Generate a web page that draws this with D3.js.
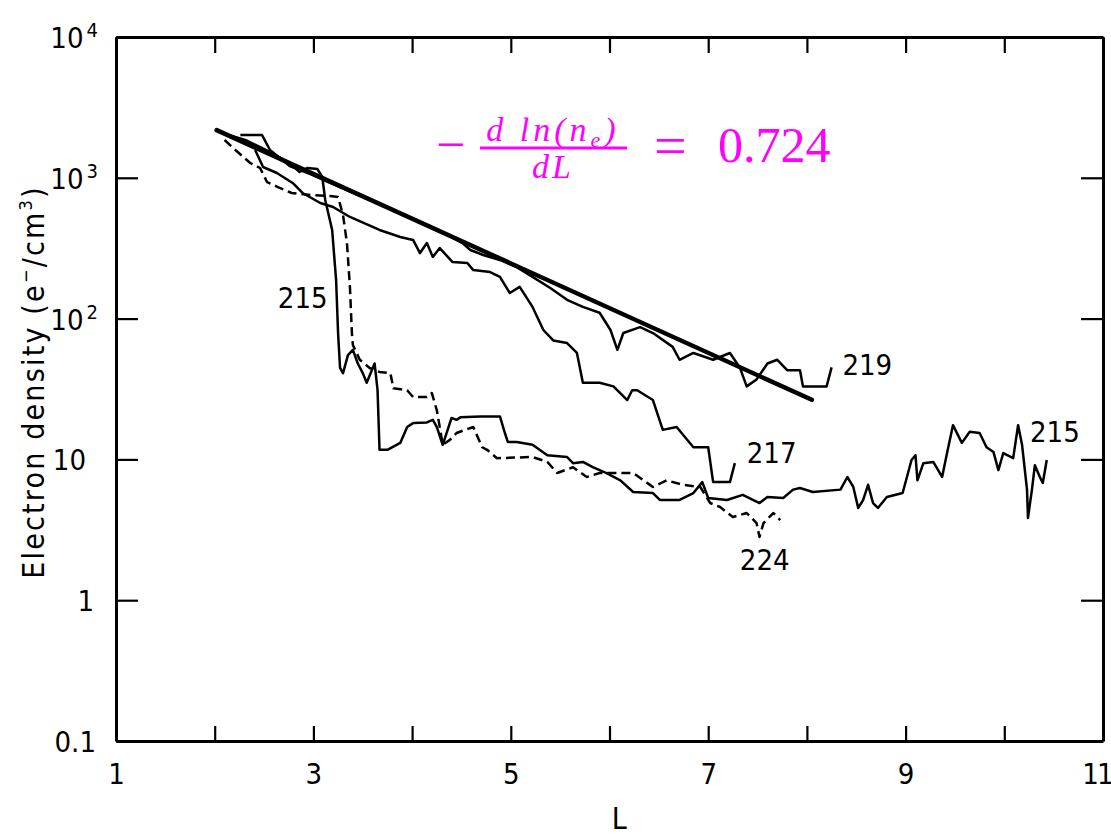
<!DOCTYPE html>
<html>
<head>
<meta charset="utf-8">
<script src="https://cdn.jsdelivr.net/npm/d3@7"></script>
<style>
  html, body { margin: 0; padding: 0; background: #fff; }
  svg { display: block; }
</style>
</head>
<body>
<svg id="chart" width="1111" height="837"></svg>
<script>
// ---------------- data ----------------
const L215 = [2.07,2.31,2.56,2.76,2.86,2.94,3.04,3.09,3.12,3.19,3.23,3.25,3.27,3.30,3.35,3.40,3.45,3.50,3.54,3.62,3.65,3.67,3.75,3.88,3.95,4.01,4.15,4.21,4.25,4.31,4.36,4.40,4.45,4.49,4.69,4.89,4.94,4.97,5.06,5.22,5.37,5.57,5.63,5.73,5.83,5.97,6.11,6.24,6.44,6.51,6.71,6.85,6.94,7.00,7.19,7.35,7.52,7.60,7.76,7.86,7.93,8.06,8.34,8.41,8.47,8.52,8.57,8.62,8.67,8.72,8.81,8.97,9.06,9.10,9.12,9.18,9.28,9.37,9.42,9.48,9.57,9.65,9.75,9.82,9.89,9.94,9.99,10.09,10.14,10.18,10.23,10.24,10.28,10.31,10.36,10.39,10.43];
const N215 = [2080,1856,1525,1274,1100,1174,1155,1013,696,426,188,79,44.6,41,55,60,48,41,35,48,31,11.7,11.7,13.1,17.0,18.1,18.3,19.1,17.0,12.7,16.2,19.7,19.1,19.9,20.2,20.2,15.4,13.3,13.3,12.7,10.7,10.4,9.4,9.6,8.8,8.0,7.1,5.87,5.77,5.15,5.15,5.77,6.9,5.32,5.15,5.6,4.9,5.41,5.32,6.1,6.27,5.87,6.1,7.5,6.37,4.52,5.15,6.6,4.9,4.52,5.41,5.77,9.9,10.7,7.1,9.4,9.6,7.5,11.1,17.5,13.1,15.7,15.4,12.2,11.3,8.4,11.1,10.2,17.5,12.7,6.1,3.84,6.1,9.1,7.5,6.8,9.9];

const L217 = [2.41,2.49,2.63,2.79,2.89,3.07,3.20,3.37,3.67,3.88,4.01,4.08,4.15,4.21,4.28,4.41,4.56,4.62,4.79,4.89,4.99,5.09,5.22,5.33,5.43,5.57,5.67,5.73,5.90,6.04,6.18,6.23,6.28,6.44,6.54,6.68,6.85,7.00,7.05,7.22,7.27];
const N217 = [1575,1193,1082,919,780,662,620,527,426,380,362,292,344,274,317,252,248,221,214,198,152,168,121,83,70,67,57,35,35,33,26.4,31,31,26.4,16.2,17.0,12.2,12.2,6.9,6.9,9.4];

const L219 = [2.26,2.48,2.56,2.76,2.97,3.17,3.47,3.88,4.18,4.38,4.51,4.59,4.72,4.89,5.06,5.22,5.40,5.57,5.73,5.90,6.01,6.08,6.14,6.31,6.44,6.64,6.71,6.85,7.05,7.22,7.32,7.39,7.49,7.60,7.70,7.80,7.93,7.96,8.20,8.25];
const N219 = [2010,2010,1575,1213,1064,919,743,562,455,386,344,307,283,261,232,198,165,136,121,110,83,60,79,87,79,63,51,57,51,57,45,33,37,48,51,43,43,33,33,45];

const L224 = [2.10,2.21,2.36,2.46,2.53,2.64,2.78,2.97,3.17,3.25,3.30,3.34,3.37,3.39,3.40,3.47,3.57,3.67,3.78,3.81,3.95,4.01,4.15,4.20,4.25,4.28,4.31,4.38,4.45,4.62,4.71,4.76,4.86,5.22,5.37,5.47,5.63,5.77,5.90,6.24,6.44,6.58,6.74,6.92,7.02,7.12,7.25,7.39,7.49,7.52,7.56,7.66,7.73];
const N224 = [1856,1575,1274,1174,933,860,780,755,743,731,544,344,168,79,65,51,44.6,41.8,41,32,31,27.7,27.7,29.6,22.4,17.0,12.7,13.7,15.4,17.0,12.2,11.7,10.2,10.4,9.6,8.0,8.8,7.5,8.0,8.0,6.37,7.1,6.6,6.37,4.9,4.59,3.90,4.16,3.53,2.81,3.53,4.16,3.71];

// straight-line fit endpoints, slope -dln(ne)/dL = 0.724
const fitL = [2.02, 8.05];
const fitN = [2180, 26.5];

const xTicks = [1,2,3,4,5,6,7,8,9,10,11];
const xTickLabels = ["1","","3","","5","","7","","9","","11"];
const yTicks = [0.1,1,10,100,1000,10000];
const yTickBase = ["0.1","1","10","10","10","10"];
const yTickExp  = ["","","","2","3","4"];

// label anchors in data coordinates (L, density)
const labelText = ["215","219","217","224","215"];
const labelL    = [2.64, 8.36, 7.39, 7.32, 10.26];
const labelN    = [119, 40, 9.4, 1.64, 13.3];

// ---------------- drawing ----------------
const FONT = "'Liberation Sans Narrow','DejaVu Sans Condensed','Roboto Condensed','Arial Narrow',sans-serif";
const SERIF = "'Liberation Serif','DejaVu Serif',serif";
const MAG = "#ff00ff";
const yTickDx = [-2, -4, -12, 0, 0, 0];   // small per-label nudges (layout only)

const svg = d3.select("#chart");
svg.append("rect").attr("width",1111).attr("height",837).attr("fill","#fff");

const x = d3.scaleLinear().domain([1, 11]).range([116, 1103]);
const y = d3.scaleLog().domain([0.1, 10000]).range([741, 37]);

const line = d3.line().x(d => x(d[0])).y(d => y(d[1]));

// frame axes
const gB = svg.append("g").attr("transform", `translate(0,${y(0.1)})`)
  .call(d3.axisBottom(x).tickValues(xTicks).tickSize(-15).tickSizeOuter(0).tickPadding(22)
        .tickFormat((d,i) => xTickLabels[i]));
const gT = svg.append("g").attr("transform", `translate(0,${y(10000)})`)
  .call(d3.axisTop(x).tickValues(xTicks).tickSize(-16).tickSizeOuter(0).tickFormat(""));
const gL = svg.append("g").attr("transform", `translate(${x(1)},0)`)
  .call(d3.axisLeft(y).tickValues(yTicks).tickSize(-22).tickSizeOuter(0).tickFormat(""));
const gR = svg.append("g").attr("transform", `translate(${x(11)},0)`)
  .call(d3.axisRight(y).tickValues(yTicks).tickSize(-22).tickSizeOuter(0).tickFormat(""));

[gB,gT,gL,gR].forEach(g => {
  g.select(".domain").attr("stroke","#000").attr("stroke-width",3);
  g.selectAll(".tick line").attr("stroke","#000").attr("stroke-width",2.2);
});
gB.selectAll(".tick text").attr("font-family",FONT).attr("font-size",29)
  .attr("fill","#000").attr("font-stretch","condensed");
gB.selectAll(".tick text").filter(d => d === 11)
  .attr("text-anchor","end").attr("x", 8).attr("letter-spacing", -2);

// y tick labels with superscripts
gL.selectAll(".tick").each(function(d,i){
  const t = d3.select(this).append("text")
    .attr("x", -18 + yTickDx[i]).attr("dy","0.36em").attr("text-anchor","end")
    .attr("font-family",FONT).attr("font-size",29).attr("font-stretch","condensed")
    .attr("fill","#000");
  t.append("tspan").text(yTickBase[i]);
  if (yTickExp[i]) {
    t.append("tspan").attr("font-size",20).attr("dy","-0.55em").attr("dx","3").text(yTickExp[i]);
  }
});

// axis titles
svg.append("text").attr("x", x(6.1)).attr("y", 829).attr("text-anchor","middle")
  .attr("font-family",FONT).attr("font-size",30).attr("font-stretch","condensed").text("L");

const yt = svg.append("text").attr("transform","translate(44,382) rotate(-90)")
  .attr("text-anchor","middle").attr("font-family",FONT).attr("font-size",30)
  .attr("font-stretch","condensed").attr("letter-spacing","2.2").attr("fill","#000");
yt.append("tspan").text("Electron density (e");
yt.append("tspan").attr("font-size",18).attr("dy","-12").text("−");
yt.append("tspan").attr("dy","12").text("/cm");
yt.append("tspan").attr("font-size",18).attr("dy","-12").text("3");
yt.append("tspan").attr("dy","12").text(")");

// series
const series = [
  {name:"215", data:d3.zip(L215,N215), dash:null},
  {name:"217", data:d3.zip(L217,N217), dash:null},
  {name:"219", data:d3.zip(L219,N219), dash:null},
  {name:"224", data:d3.zip(L224,N224), dash:"9,5"}
];
svg.append("g").selectAll("path").data(series).join("path")
  .attr("d", d => line(d.data))
  .attr("fill","none").attr("stroke","#000").attr("stroke-width",2.5)
  .attr("stroke-linejoin","round")
  .attr("stroke-dasharray", d => d.dash);

// fit line
svg.append("path").attr("d", line(d3.zip(fitL, fitN)))
  .attr("fill","none").attr("stroke","#000").attr("stroke-width",4.5).attr("stroke-linecap","round");

// series labels
svg.append("g").selectAll("text").data(labelText).join("text")
  .attr("x",(d,i)=>x(labelL[i])).attr("y",(d,i)=>y(labelN[i]))
  .attr("font-family",FONT).attr("font-size",29).attr("font-stretch","condensed")
  .attr("fill","#000").text(d=>d);

// formula annotation
const fx = svg.append("g").attr("fill",MAG).attr("font-family",SERIF);
fx.append("text").attr("x",436).attr("y",162).attr("font-size",52).text("−");
const num = fx.append("text").attr("x",553).attr("y",141).attr("text-anchor","middle")
  .attr("font-size",34).attr("font-style","italic").attr("letter-spacing",4);
num.append("tspan").text("d ln(n");
num.append("tspan").attr("font-size",22).attr("dy","6").text("e");
num.append("tspan").attr("dy","-6").text(")");
fx.append("line").attr("x1",480).attr("x2",627).attr("y1",148).attr("y2",148)
  .attr("stroke",MAG).attr("stroke-width",2.8);
fx.append("text").attr("x",553).attr("y",178).attr("text-anchor","middle")
  .attr("font-size",34).attr("font-style","italic").attr("letter-spacing",3).text("dL");
fx.append("text").attr("x",654).attr("y",165).attr("font-size",58).text("=");
fx.append("text").attr("x",718).attr("y",162).attr("font-size",50).text("0.724");
</script>
</body>
</html>
